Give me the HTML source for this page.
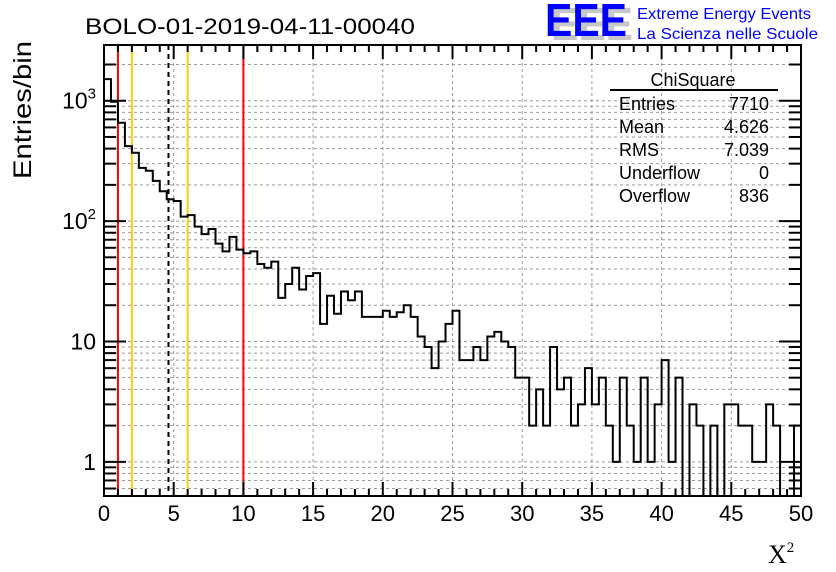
<!DOCTYPE html>
<html><head><meta charset="utf-8"><style>
body{margin:0;background:#fff}
svg{display:block;font-family:"Liberation Sans",sans-serif}
</style></head><body>
<svg id="c" width="836" height="572">
  <g id="grid"></g>
  <g id="markers"></g>
  <path id="hist" fill="none" stroke="#000" stroke-width="2"></path>
  <g id="axes"></g>
  <text x="85" y="34" font-size="22" textLength="330" lengthAdjust="spacingAndGlyphs">BOLO-01-2019-04-11-00040</text>
  <g>
    <text x="551" y="40" font-size="46" font-weight="bold" fill="#c8c8c8" textLength="82" lengthAdjust="spacingAndGlyphs">EEE</text>
    <text x="545" y="36" font-size="46" font-weight="bold" fill="#0000ff" textLength="82" lengthAdjust="spacingAndGlyphs">EEE</text>
    <text x="637" y="19" font-size="16" fill="#0000ff" textLength="174" lengthAdjust="spacingAndGlyphs">Extreme Energy Events</text>
    <text x="637" y="39" font-size="16" fill="#0000ff" textLength="181" lengthAdjust="spacingAndGlyphs">La Scienza nelle Scuole</text>
  </g>
  <g font-size="18">
    <text x="693" y="86" text-anchor="middle">ChiSquare</text>
    <line x1="610" y1="90" x2="778" y2="90" stroke="#000" stroke-width="2"/>
    <text x="619" y="110">Entries</text><text x="769" y="110" text-anchor="end">7710</text>
    <text x="619" y="133">Mean</text><text x="769" y="133" text-anchor="end">4.626</text>
    <text x="619" y="156">RMS</text><text x="769" y="156" text-anchor="end">7.039</text>
    <text x="619" y="179">Underflow</text><text x="769" y="179" text-anchor="end">0</text>
    <text x="619" y="202">Overflow</text><text x="769" y="202" text-anchor="end">836</text>
  </g>
  <text transform="translate(31,110) rotate(-90)" text-anchor="middle" font-size="25" textLength="138" lengthAdjust="spacingAndGlyphs">Entries/bin</text>
  <text x="768" y="563" font-size="26" font-family="Liberation Serif,serif">X<tspan font-size="15" dy="-11">2</tspan></text>
</svg>
<script>
const counts=[1510,980,656,420,370,277,262,216,177,152,147,109,112,90,78,86,65,56,74,58,54,56,44,41,46,23,30,41,27,35,37,14,24,17,26,22,26,16,16,16,18,16,17.5,20,16,11,9,6,10,14,18,7,7,9,7,11,12,10,9,5,5,2,4,2,9,4,5,2,3,6,3,5,2,1,5,2,1,5,1,3,7,1,5,0,3,2,0,2,0,3,3,2,2,1,1,3,2,0,0,2];
const xTicks=[0,5,10,15,20,25,30,35,40,45,50];
const yMajor=[1,10,100,1000];
const yMajorLabels=["1","10","10²","10³"];
const markerValues=[1,10,2,6,4.626];
const markerColors=["#ff0000","#ff0000","#ffcc00","#ffcc00","#000"];
const X0=104,X1=801,Y0=496,Y1=45,XMIN=0,XMAX=50,LMIN=Math.log10(0.52),LMAX=3.463,BW=0.5;
const sx=v=>X0+(v-XMIN)/(XMAX-XMIN)*(X1-X0);
const sy=v=>v<=0?Y0:Math.max(Y1,Y0-(Math.log10(v)-LMIN)/(LMAX-LMIN)*(Y0-Y1));
const NS="http://www.w3.org/2000/svg";
function mk(p,t,a){const e=document.createElementNS(NS,t);for(const k in a)e.setAttribute(k,a[k]);p.appendChild(e);return e;}
const grid=document.getElementById('grid'),axes=document.getElementById('axes'),mark=document.getElementById('markers');
xTicks.forEach(t=>{if(t>XMIN&&t<XMAX){const l=mk(grid,'line',{x1:sx(t),x2:sx(t),y1:Y1,y2:Y0,stroke:'#999','stroke-dasharray':'3,3'});

}});
for(let d=0.1;d<=1000;d*=10){for(let m=1;m<10;m++){const v=Math.round(d*m*100)/100;const y=sy(v);if(v<0.52||y<=Y1)continue;
const l=mk(grid,'line',{x1:X0,x2:X1,y1:y,y2:y,stroke:'#999','stroke-dasharray':'3,3'});


const major=(m===1);
[[X0,X0+(major?22:12)],[X1,X1-(major?22:12)]].forEach(([a,b])=>{const tk=mk(axes,'line',{x1:a,x2:b,y1:y,y2:y,stroke:'#000','stroke-width':2});

});}}
markerValues.forEach((v,i)=>{const l=mk(mark,'line',{x1:sx(v),x2:sx(v),y1:Y1,y2:Y0,stroke:markerColors[i],'stroke-width':2});
if(i===4)l.setAttribute('stroke-dasharray','5,4');

});
let d='M'+sx(0)+','+Y0;
counts.forEach((c,i)=>{const y=sy(c);d+=' L'+sx(i*BW)+','+y+' L'+sx((i+1)*BW)+','+y;});
d+=' L'+sx(counts.length*BW)+','+Y0;
document.getElementById('hist').setAttribute('d',d);
const fr=mk(axes,'rect',{x:X0,y:Y1,width:X1-X0,height:Y0-Y1,fill:'none',stroke:'#000','stroke-width':2});


for(let t=XMIN;t<=XMAX;t+=1){const major=t%5===0;const L=major?14:7;
[[Y0,Y0-L],[Y1,Y1+L]].forEach(([a,b])=>{const tk=mk(axes,'line',{x1:sx(t),x2:sx(t),y1:a,y2:b,stroke:'#000','stroke-width':2});

});}
xTicks.forEach(t=>{const tx=mk(axes,'text',{x:sx(t),y:521,'text-anchor':'middle','font-size':22});tx.textContent=t;

});
yMajor.forEach((v,i)=>{const tx=mk(axes,'text',{x:96,y:sy(v)+8,'text-anchor':'end','font-size':23});
const s=yMajorLabels[i];
if(s.length>2&&s.startsWith('10')){tx.textContent='10';const ts=mk(tx,'tspan',{dy:-10,'font-size':15});ts.textContent=s.endsWith('²')?'2':'3';}
else tx.textContent=s;

});
</script>
</body></html>
